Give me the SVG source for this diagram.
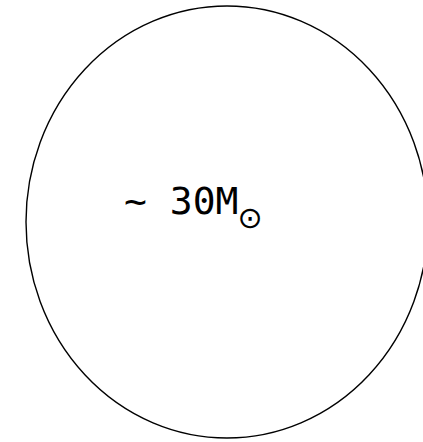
<svg xmlns="http://www.w3.org/2000/svg" width="423" height="442" viewBox="0 0 423 442">
<style>
.shape{fill:none;stroke:#000;stroke-width:1.4}
.lbl{font-family:"DejaVu Sans Mono",monospace;font-size:38px;fill:#000}
.sub{font-family:"DejaVu Sans",sans-serif;font-size:30px}
</style>
<rect width="423" height="442" fill="#fff"/>
<g id="star">
<ellipse class="shape" cx="227" cy="222" rx="201" ry="216"/>
<text class="lbl" x="124" y="214">~ 30M<tspan class="sub" dx="-1" dy="14">⊙</tspan></text>
</g>
</svg>
